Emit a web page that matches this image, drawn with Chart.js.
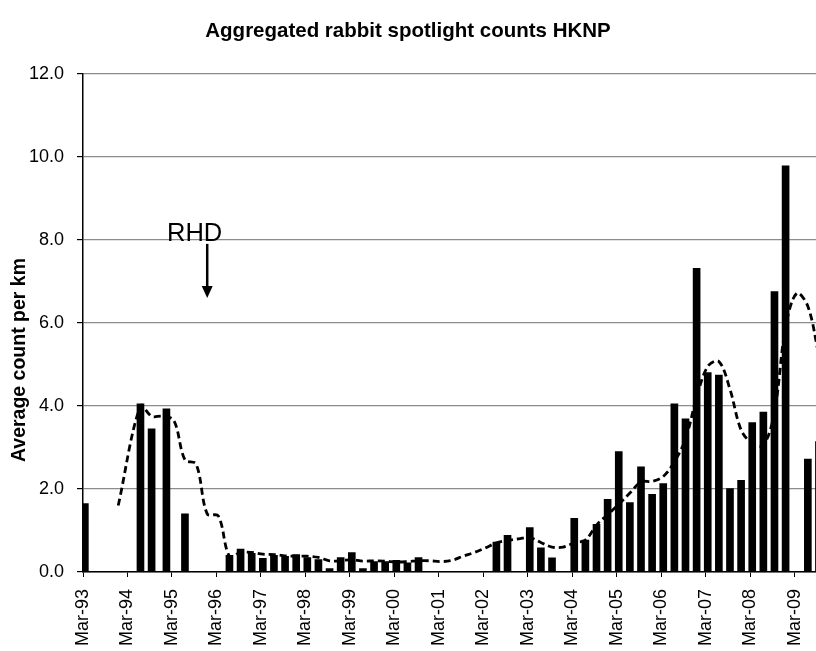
<!DOCTYPE html>
<html>
<head>
<meta charset="utf-8">
<script src="https://cdn.jsdelivr.net/npm/chart.js@4.4.1/dist/chart.umd.min.js"></script>
<style>
  html, body { margin: 0; padding: 0; background: #fff; overflow: hidden; }
  #wrap { position: relative; width: 816px; height: 651px; }
</style>
</head>
<body>
<div id="wrap"><canvas id="chart" width="816" height="651"></canvas></div>
<script>
// Survey months and average rabbit counts per km (spotlight transects)
const countDates = [
  '1993-03', '1994-06', '1994-09', '1995-01', '1995-06',
  '1996-06', '1996-09', '1996-12', '1997-03', '1997-06', '1997-09', '1997-12',
  '1998-03', '1998-06', '1998-09', '1998-12', '1999-03', '1999-06', '1999-09', '1999-12',
  '2000-03', '2000-06', '2000-09',
  '2002-06', '2002-09', '2003-03', '2003-06', '2003-09',
  '2004-03', '2004-06', '2004-09', '2004-12',
  '2005-03', '2005-06', '2005-09', '2005-12',
  '2006-03', '2006-06', '2006-09', '2006-12',
  '2007-03', '2007-06', '2007-09', '2007-12',
  '2008-03', '2008-06', '2008-09', '2008-12',
  '2009-06', '2009-09'
];
const countValues = [
  1.65, 4.05, 3.45, 3.93, 1.40,
  0.40, 0.55, 0.45, 0.33, 0.40, 0.38, 0.42,
  0.35, 0.30, 0.08, 0.35, 0.47, 0.08, 0.25, 0.25,
  0.28, 0.22, 0.35,
  0.72, 0.88, 1.07, 0.58, 0.34,
  1.29, 0.77, 1.15, 1.75,
  2.90, 1.67, 2.53, 1.87,
  2.13, 4.05, 3.69, 7.31,
  4.80, 4.74, 2.01, 2.21,
  3.60, 3.85, 6.75, 9.78,
  2.72, 3.14
];

// Moving-average trend of the counts
const trendDates = [
  '1993-12', '1994-06', '1994-09', '1994-12', '1995-03', '1995-06', '1995-09', '1995-12',
  '1996-03', '1996-06', '1996-09', '1996-12', '1997-03', '1997-06', '1997-09', '1997-12',
  '1998-03', '1998-06', '1998-09', '1998-12', '1999-03', '1999-06', '1999-09', '1999-12',
  '2000-03', '2000-06', '2000-09', '2000-12', '2001-03', '2001-06', '2001-09', '2001-12',
  '2002-03', '2002-06', '2002-09', '2002-12', '2003-03', '2003-06', '2003-09', '2003-12',
  '2004-03', '2004-06', '2004-09', '2004-12', '2005-03', '2005-06', '2005-09', '2005-12',
  '2006-03', '2006-06', '2006-09', '2006-12', '2007-03', '2007-06', '2007-09', '2007-12',
  '2008-03', '2008-06', '2008-09', '2008-12', '2009-03', '2009-06', '2009-09'
];
const trendValues = [
  1.60, 4.00, 3.75, 3.75, 3.65, 2.70, 2.60, 1.40,
  1.35, 0.38, 0.47, 0.47, 0.43, 0.42, 0.39, 0.38,
  0.38, 0.35, 0.27, 0.27, 0.30, 0.26, 0.27, 0.26,
  0.24, 0.25, 0.27, 0.27, 0.25, 0.28, 0.38, 0.47,
  0.58, 0.70, 0.76, 0.80, 0.83, 0.71, 0.60, 0.60,
  0.70, 0.77, 1.13, 1.38, 1.63, 1.90, 2.17, 2.18,
  2.30, 2.65, 3.20, 4.20, 4.95, 5.07, 4.40, 3.42,
  3.10, 3.05, 3.85, 5.90, 6.71, 6.40, 5.20
];

// Axis labels
const xTickLabels = ['Mar-93', 'Mar-94', 'Mar-95', 'Mar-96', 'Mar-97', 'Mar-98', 'Mar-99', 'Mar-00',
  'Mar-01', 'Mar-02', 'Mar-03', 'Mar-04', 'Mar-05', 'Mar-06', 'Mar-07', 'Mar-08', 'Mar-09'];
const yTickValues = [0, 2, 4, 6, 8, 10, 12];

// RHD release marker
const rhdLabel = 'RHD';
const rhdDate = '1995-12';
const rhdFromValue = 7.9;
const rhdToValue = 6.6;

// Months counted from March 1993
const MONTH_NAMES = ['Jan','Feb','Mar','Apr','May','Jun','Jul','Aug','Sep','Oct','Nov','Dec'];
function monthsFromStart(year, month) { return (year - 1993) * 12 + (month - 3); }
function midMonth(str) {
  const [y, m] = str.split('-').map(Number);
  return monthsFromStart(y, m) + 0.5;
}
function labelMonth(label) {
  const [mon, yy] = label.split('-');
  const yNum = Number(yy);
  return monthsFromStart(yNum < 50 ? 2000 + yNum : 1900 + yNum, MONTH_NAMES.indexOf(mon) + 1);
}

const barPoints = countDates.map((d, i) => ({ x: midMonth(d), y: countValues[i] }));
const trendPoints = trendDates.map((d, i) => ({ x: midMonth(d), y: trendValues[i] }));
const xTickValues = xTickLabels.map(labelMonth);

const FONT = '"Liberation Sans", Arial, Helvetica, sans-serif';

const overlay = {
  id: 'overlay',
  afterDraw(chart) {
    const { ctx, scales: { x, y } } = chart;
    ctx.save();
    // y-axis title
    ctx.translate(20, 360);
    ctx.rotate(-Math.PI / 2);
    ctx.font = 'bold 19.5px ' + FONT;
    ctx.fillStyle = '#000';
    ctx.textAlign = 'center';
    ctx.textBaseline = 'middle';
    ctx.fillText('Average count per km', 0, 0);
    ctx.restore();

    // RHD arrow and label
    const ax = x.getPixelForValue(midMonth(rhdDate));
    const y0 = y.getPixelForValue(rhdFromValue);
    const y1 = y.getPixelForValue(rhdToValue);
    ctx.save();
    ctx.strokeStyle = '#000';
    ctx.fillStyle = '#000';
    ctx.lineWidth = 2.5;
    ctx.beginPath();
    ctx.moveTo(ax, y0);
    ctx.lineTo(ax, y1 - 10);
    ctx.stroke();
    ctx.beginPath();
    ctx.moveTo(ax - 5.5, y1 - 12);
    ctx.lineTo(ax + 5.5, y1 - 12);
    ctx.lineTo(ax, y1);
    ctx.closePath();
    ctx.fill();
    ctx.font = '25.5px ' + FONT;
    ctx.textAlign = 'right';
    ctx.textBaseline = 'alphabetic';
    ctx.fillText(rhdLabel, ax + 15, y0 - 3);
    ctx.restore();
  }
};

new Chart(document.getElementById('chart'), {
  data: {
    datasets: [
      {
        type: 'line',
        label: 'Moving average',
        data: trendPoints,
        borderColor: '#000',
        borderWidth: 2.8,
        borderDash: [7, 4],
        pointRadius: 0,
        tension: 0.35,
        fill: false,
        clip: 0,
        order: 0
      },
      {
        type: 'bar',
        label: 'Average count per km',
        data: barPoints,
        backgroundColor: '#000',
        borderWidth: 0,
        barThickness: 7,
        clip: 0,
        order: 1
      }
    ]
  },
  options: {
    responsive: false,
    animation: false,
    layout: { padding: { left: 0, right: 0, top: 0, bottom: 0 } },
    plugins: {
      legend: { display: false },
      tooltip: { enabled: false },
      title: {
        display: true,
        text: 'Aggregated rabbit spotlight counts HKNP',
        color: '#000',
        font: { family: FONT, size: 20.5, weight: 'bold', lineHeight: 1.2 },
        padding: { top: 19, bottom: 30 }
      }
    },
    scales: {
      x: {
        type: 'linear',
        offset: false,
        min: 0,
        max: 197.7,
        afterBuildTicks(scale) { scale.ticks = xTickValues.map(v => ({ value: v })); },
        afterFit(scale) {
          scale.height = 79;
          scale.paddingLeft = 0;
          scale.paddingRight = 0;
        },
        ticks: {
          autoSkip: false,
          minRotation: 90,
          maxRotation: 90,
          padding: 12,
          color: '#000',
          font: { family: FONT, size: 18 },
          callback(value) {
            const i = xTickValues.indexOf(value);
            return i >= 0 ? xTickLabels[i] : '';
          }
        },
        grid: { display: true, offset: false, drawOnChartArea: false, drawTicks: true, tickLength: 5, tickColor: '#000', tickWidth: 1 },
        border: { display: true, color: '#000', width: 1.5 }
      },
      y: {
        min: 0,
        max: 12,
        afterBuildTicks(scale) { scale.ticks = yTickValues.map(v => ({ value: v })); },
        afterFit(scale) { scale.width = 83; },
        ticks: {
          padding: 13,
          color: '#000',
          font: { family: FONT, size: 18 },
          callback(value) { return Number(value).toFixed(1); }
        },
        grid: { color: '#8c8c8c', lineWidth: 1.2, drawTicks: true, tickLength: 6, tickColor: '#000' },
        border: { display: true, color: '#000', width: 1.5 }
      }
    }
  },
  plugins: [overlay]
});
</script>
</body>
</html>
